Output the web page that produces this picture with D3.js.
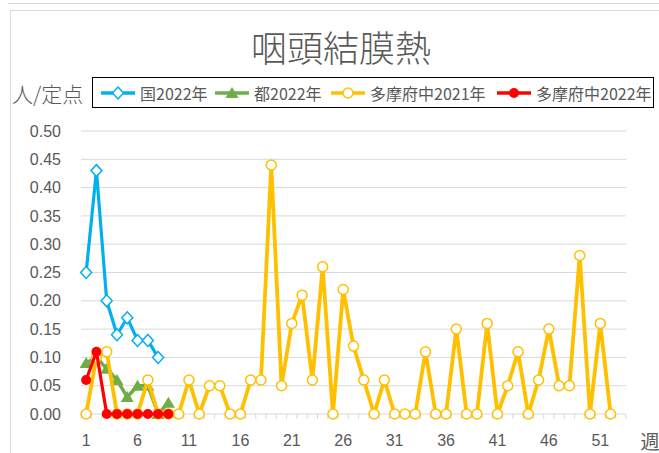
<!DOCTYPE html>
<html><head><meta charset="utf-8">
<script src="https://cdn.jsdelivr.net/npm/d3@7"></script>
<style>body{margin:0;background:#fff;}svg{display:block;}</style>
</head><body>
<svg id="c" width="659" height="453"></svg>
<script>
const weeks = d3.range(1, 54);
const tickWeeks = [1, 6, 11, 16, 21, 26, 31, 36, 41, 46, 51];
const yTicks = [0, 0.05, 0.10, 0.15, 0.20, 0.25, 0.30, 0.35, 0.40, 0.45, 0.50];
const national2022 = [0.25, 0.43, 0.20, 0.14, 0.17, 0.13, 0.13, 0.10];
const tokyo2022 = [0.09, 0.10, 0.08, 0.06, 0.03, 0.05, 0.05, 0.00, 0.02];
const tama2021 = [0.00, 0.10, 0.11, 0.00, 0.00, 0.00, 0.06, 0.00, 0.00, 0.00,
  0.06, 0.00, 0.05, 0.05, 0.00, 0.00, 0.06, 0.06, 0.44, 0.05,
  0.16, 0.21, 0.06, 0.26, 0.00, 0.22, 0.12, 0.06, 0.00, 0.06,
  0.00, 0.00, 0.00, 0.11, 0.00, 0.00, 0.15, 0.00, 0.00, 0.16,
  0.00, 0.05, 0.11, 0.00, 0.06, 0.15, 0.05, 0.05, 0.28, 0.00,
  0.16, 0.00];
const tama2022 = [0.06, 0.11, 0.00, 0.00, 0.00, 0.00, 0.00, 0.00, 0.00];
const seriesNames = ["国2022年", "都2022年", "多摩府中2021年", "多摩府中2022年"];

const svg = d3.select("#c");
const txt = "#595959";
const font = "'Liberation Sans', 'Noto Sans CJK JP', sans-serif";
const cjk = "'Noto Sans CJK JP', sans-serif";

// chart frame
svg.append("line").attr("x1", 8).attr("x2", 659).attr("y1", 3.5).attr("y2", 3.5).attr("stroke", "#d9d9d9");
svg.append("rect").attr("x", 10.5).attr("y", 10.5).attr("width", 660).attr("height", 460)
  .attr("fill", "#fff").attr("stroke", "#d9d9d9");

const x = d3.scaleBand().domain(weeks).range([81, 626]).paddingInner(0).paddingOuter(0);
const y = d3.scaleLinear().domain([0, 0.5]).range([414, 131]);
const cx = w => x(w) + x.bandwidth() / 2;

// title
svg.append("text").attr("x", 341).attr("y", 46).attr("text-anchor", "middle")
  .attr("dominant-baseline", "central").attr("font-family", cjk).attr("font-size", 36)
  .attr("font-weight", 300).attr("fill", txt).text("咽頭結膜熱");

// gridlines
svg.append("g").selectAll("line").data(yTicks.slice(1)).join("line")
  .attr("x1", 81).attr("x2", 626).attr("y1", d => y(d)).attr("y2", d => y(d))
  .attr("stroke", "#d9d9d9").attr("stroke-width", 1);

// y axis labels
const yAxis = d3.axisLeft(y).tickValues(yTicks).tickFormat(d3.format(".2f")).tickSize(0).tickPadding(0);
const gy = svg.append("g").attr("transform", "translate(61,0)").call(yAxis);
gy.select(".domain").remove();
gy.selectAll("text").attr("font-family", font).attr("font-size", 16).attr("fill", txt);

// x axis
const gx = svg.append("g").attr("transform", "translate(0,414)");
gx.append("line").attr("x1", 81).attr("x2", 626).attr("stroke", "#d9d9d9");
gx.selectAll("line.tk").data(weeks.concat([54])).join("line").attr("class", "tk")
  .attr("x1", d => d === 54 ? 626 : x(d)).attr("x2", d => d === 54 ? 626 : x(d))
  .attr("y1", 0).attr("y2", 5).attr("stroke", "#d9d9d9");
gx.selectAll("text").data(tickWeeks).join("text")
  .attr("x", d => cx(d)).attr("y", 26).attr("text-anchor", "middle")
  .attr("dominant-baseline", "central").attr("font-family", font).attr("font-size", 16)
  .attr("fill", txt).text(d => d);
svg.append("text").attr("x", 650).attr("y", 440).attr("text-anchor", "middle")
  .attr("dominant-baseline", "central").attr("font-family", cjk).attr("font-size", 19)
  .attr("fill", txt).text("週");

// y unit label
svg.append("text").attr("x", 12).attr("y", 93).attr("dominant-baseline", "central")
  .attr("font-family", cjk).attr("font-size", 21).attr("font-weight", 300).attr("fill", txt).text("人/定点");

const line = d3.line().x((d, i) => cx(i + 1)).y(d => y(d));
const colors = ["#00B0F0", "#70AD47", "#FFC000", "#FF0000"];
const diamondPath = "M0,-6L5.5,0L0,6L-5.5,0Z";

function drawMarker(g, type, color) {
  if (type === "diamond") {
    g.append("path").attr("d", diamondPath).attr("fill", "#fff").attr("stroke", color).attr("stroke-width", 1.5);
  } else if (type === "triangle") {
    g.append("path").attr("d", "M0,-6L6.5,5L-6.5,5Z").attr("fill", color);
  } else if (type === "ocircle") {
    g.append("circle").attr("r", 5).attr("fill", "#fff").attr("stroke", color).attr("stroke-width", 1.5);
  } else {
    g.append("circle").attr("r", 5).attr("fill", color);
  }
}

const series = [
  {data: national2022, color: colors[0], w: 3.2, m: "diamond"},
  {data: tokyo2022, color: colors[1], w: 3.5, m: "triangle"},
  {data: tama2021, color: colors[2], w: 3.8, m: "ocircle"},
  {data: tama2022, color: colors[3], w: 3.2, m: "dot"}
];

series.forEach(s => {
  const g = svg.append("g");
  g.append("path").attr("d", line(s.data)).attr("fill", "none").attr("stroke", s.color)
    .attr("stroke-width", s.w).attr("stroke-linejoin", "round");
  s.data.forEach((v, i) => {
    const mg = g.append("g").attr("transform", `translate(${cx(i + 1)},${y(v)})`);
    drawMarker(mg, s.m, s.color);
  });
});

// legend
svg.append("rect").attr("x", 92.5).attr("y", 77.5).attr("width", 561).attr("height", 30)
  .attr("fill", "#fff").attr("stroke", "#000").attr("stroke-width", 1);
const legX = [101, 215, 331, 497];
const types = ["diamond", "triangle", "ocircle", "dot"];
seriesNames.forEach((name, i) => {
  const g = svg.append("g").attr("transform", `translate(${legX[i]},93)`);
  g.append("line").attr("x1", 0).attr("x2", 34).attr("stroke", colors[i]).attr("stroke-width", 3.5);
  const mg = g.append("g").attr("transform", "translate(17,0)");
  drawMarker(mg, types[i], colors[i]);
  g.append("text").attr("x", 39).attr("y", 0).attr("dominant-baseline", "central")
    .attr("font-family", cjk).attr("font-size", 16).attr("fill", txt).text(name);
});
</script>
</body></html>
